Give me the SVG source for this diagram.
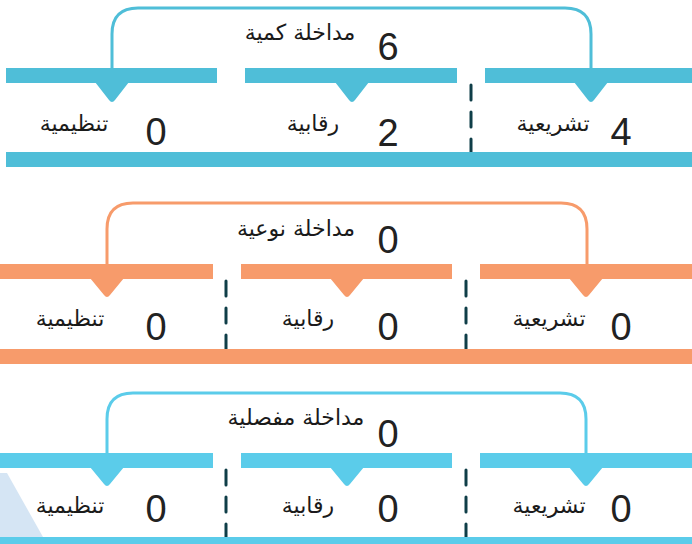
<svg xmlns="http://www.w3.org/2000/svg" width="692" height="544" viewBox="0 0 692 544">
<style>
.b1{fill:#4FBED8}
.b2{fill:#F79B6B}
.b3{fill:#5BCCEA}
.br{fill:none;stroke-width:3}
.s1{stroke:#4FBED8}
.s2{stroke:#F79B6B}
.s3{stroke:#5BCCEA}
.dash{stroke:#0F3E48;stroke-width:3;stroke-linecap:round;stroke-dasharray:15 12;fill:none}
.ar{font-family:"DejaVu Sans",sans-serif;font-size:22px;fill:#1a1a1a;text-anchor:middle}
.num{font-family:"Liberation Sans",Arial,sans-serif;font-size:38px;fill:#222;text-anchor:middle}
</style>
<rect x="0" y="0" width="692" height="544" fill="#ffffff"/>
<polygon points="0,473 7,473 43,537 0,537" fill="#D5E5F4"/>
<g id="connectors">
<path class="br s1" d="M112,68 V34 Q112,8 138,8 H565 Q591,8 591,34 V68"/>
<path class="br s2" d="M107,264 V229 Q107,203 133,203 H561 Q587,203 587,229 V264"/>
<path class="br s3" d="M107,453 V419 Q107,393 133,393 H560 Q586,393 586,419 V453"/>
<line class="dash" x1="471" y1="85" x2="471" y2="153"/>
<line class="dash" x1="226" y1="281" x2="226" y2="349"/>
<line class="dash" x1="466" y1="281" x2="466" y2="349"/>
<line class="dash" x1="226" y1="470" x2="226" y2="537"/>
<line class="dash" x1="466" y1="470" x2="466" y2="537"/>
</g>
<g id="section1">
<g id="s1-title"><text class="ar" x="300" y="40">مداخلة كمية</text><text class="num" x="388" y="60">6</text></g>
<g id="s1-tanzimiya"><rect class="b1" x="6" y="68" width="211" height="15"/><path class="b1" d="M95,82 H129 L115,100 Q112,104 109,100 Z"/><text class="ar" x="74" y="131">تنظيمية</text><text class="num" x="156" y="145">0</text></g>
<g id="s1-raqabiya"><rect class="b1" x="245" y="68" width="212" height="15"/><path class="b1" d="M335,82 H369 L355,100 Q352,104 349,100 Z"/><text class="ar" x="313" y="131">رقابية</text><text class="num" x="388" y="146">2</text></g>
<g id="s1-tashriiya"><rect class="b1" x="485" y="68" width="207" height="15"/><path class="b1" d="M574,82 H608 L594,100 Q591,104 588,100 Z"/><text class="ar" x="553" y="131">تشريعية</text><text class="num" x="621" y="145">4</text></g>
<rect id="s1-base" class="b1" x="6" y="152" width="686" height="15"/>
</g>
<g id="section2">
<g id="s2-title"><text class="ar" x="296" y="236">مداخلة نوعية</text><text class="num" x="388" y="253">0</text></g>
<g id="s2-tanzimiya"><rect class="b2" x="0" y="264" width="213" height="15"/><path class="b2" d="M90,278 H124 L110,295 Q107,299 104,295 Z"/><text class="ar" x="70" y="326">تنظيمية</text><text class="num" x="156" y="340">0</text></g>
<g id="s2-raqabiya"><rect class="b2" x="241" y="264" width="211" height="15"/><path class="b2" d="M330,278 H364 L350,295 Q347,299 344,295 Z"/><text class="ar" x="308" y="326">رقابية</text><text class="num" x="388" y="340">0</text></g>
<g id="s2-tashriiya"><rect class="b2" x="480" y="264" width="212" height="15"/><path class="b2" d="M569,278 H603 L589,295 Q586,299 583,295 Z"/><text class="ar" x="549" y="326">تشريعية</text><text class="num" x="621" y="340">0</text></g>
<rect id="s2-base" class="b2" x="0" y="349" width="692" height="15"/>
</g>
<g id="section3">
<g id="s3-title"><text class="ar" x="296" y="425">مداخلة مفصلية</text><text class="num" x="388" y="447">0</text></g>
<g id="s3-tanzimiya"><rect class="b3" x="0" y="453" width="213" height="15"/><path class="b3" d="M90,467 H124 L110,484 Q107,488 104,484 Z"/><text class="ar" x="70" y="513">تنظيمية</text><text class="num" x="156" y="522">0</text></g>
<g id="s3-raqabiya"><rect class="b3" x="241" y="453" width="211" height="15"/><path class="b3" d="M330,467 H364 L350,484 Q347,488 344,484 Z"/><text class="ar" x="308" y="513">رقابية</text><text class="num" x="388" y="522">0</text></g>
<g id="s3-tashriiya"><rect class="b3" x="480" y="453" width="212" height="15"/><path class="b3" d="M569,467 H603 L589,484 Q586,488 583,484 Z"/><text class="ar" x="549" y="513">تشريعية</text><text class="num" x="621" y="522">0</text></g>
<rect id="s3-base" class="b3" x="0" y="537" width="692" height="10"/>
</g>
</svg>
